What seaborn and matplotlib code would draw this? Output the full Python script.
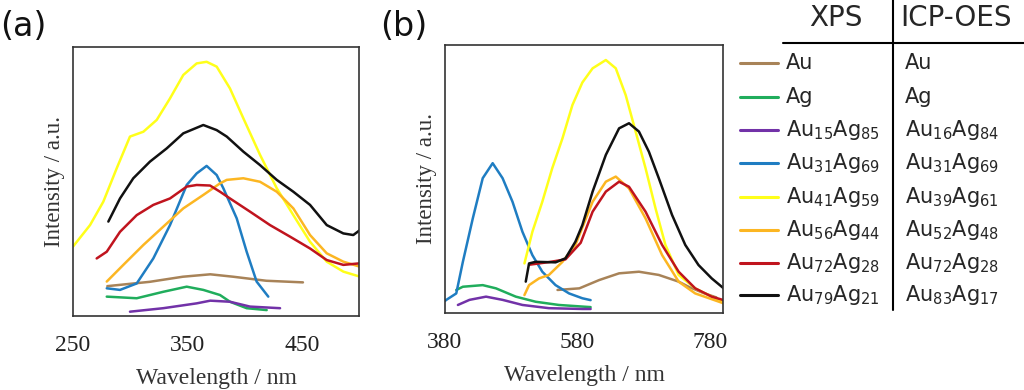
import matplotlib
matplotlib.use("Agg")
import matplotlib.pyplot as plt
from matplotlib.lines import Line2D
import seaborn as sns
import pandas as pd

sns.set_style("white")
plt.rcParams['font.family'] = ['DejaVu Sans']
plt.rcParams['mathtext.fontset'] = 'dejavusans'
plt.rcParams['mathtext.default'] = 'regular'

# ---- legend names / colours ----
xps_names = ["Au", "Ag", r"Au$_{15}$Ag$_{85}$", r"Au$_{31}$Ag$_{69}$", r"Au$_{41}$Ag$_{59}$",
             r"Au$_{56}$Ag$_{44}$", r"Au$_{72}$Ag$_{28}$", r"Au$_{79}$Ag$_{21}$"]
icp_names = ["Au", "Ag", r"Au$_{16}$Ag$_{84}$", r"Au$_{31}$Ag$_{69}$", r"Au$_{39}$Ag$_{61}$",
             r"Au$_{52}$Ag$_{48}$", r"Au$_{72}$Ag$_{28}$", r"Au$_{83}$Ag$_{17}$"]
colors = ["#a88358", "#20ad5c", "#7232a8", "#1f7dc2", "#ffff1a", "#fcb622", "#c0141e", "#111111"]

# ---- panel (a): excitation spectra, wavelength (nm) vs intensity (a.u.) ----
a_au_x = [280, 317, 346, 370, 390, 419, 451]
a_au_y = [0.111, 0.127, 0.146, 0.155, 0.146, 0.131, 0.125]
a_ag_x = [279.5, 305.7, 328.9, 349.4, 363.9, 378.5, 387.2, 401.8, 419.3]
a_ag_y = [0.072, 0.066, 0.090, 0.109, 0.097, 0.078, 0.053, 0.029, 0.022]
a_15_x = [299.8, 328.9, 358.1, 370, 387.2, 404.7, 431]
a_15_y = [0.016, 0.029, 0.047, 0.057, 0.053, 0.035, 0.029]
a_31_x = [279.5, 291.1, 305.7, 320.2, 334.8, 349.4, 358.1, 366.8, 375.6, 381.4, 393.1, 401.8, 410.5, 420.7]
a_31_y = [0.103, 0.097, 0.121, 0.214, 0.338, 0.487, 0.530, 0.558, 0.524, 0.475, 0.363, 0.239, 0.128, 0.072]
a_41_x = [250, 264.9, 276.5, 288.2, 299.8, 311.5, 323.2, 334.8, 346.4, 358.1, 366.8, 375.6, 387.2,
          398.9, 413.5, 428.1, 442.6, 457.2, 471.8, 486.3, 501]
a_41_y = [0.258, 0.338, 0.425, 0.549, 0.667, 0.685, 0.729, 0.809, 0.896, 0.939, 0.945, 0.927, 0.846,
          0.735, 0.599, 0.475, 0.375, 0.276, 0.202, 0.165, 0.146]
a_56_x = [279.5, 294, 311.5, 328.9, 346.4, 363.9, 378.5, 384.4, 398.9, 413.5, 428.1, 442.6, 457.2,
          471.8, 486.3, 501]
a_56_y = [0.128, 0.190, 0.264, 0.332, 0.400, 0.450, 0.493, 0.506, 0.512, 0.499, 0.462, 0.400, 0.301,
          0.233, 0.202, 0.183]
a_72_x = [270.7, 279.5, 291.1, 305.7, 320.2, 334.8, 349.4, 358.1, 369.8, 378.5, 387.2, 404.7, 422.2,
          439.7, 457.2, 471.8, 486.3, 501]
a_72_y = [0.214, 0.239, 0.313, 0.375, 0.413, 0.437, 0.481, 0.487, 0.485, 0.462, 0.437, 0.388, 0.338,
          0.295, 0.251, 0.208, 0.190, 0.196]
a_79_x = [280.9, 291.1, 302.7, 317.3, 331.9, 346.4, 363.9, 375.6, 384.4, 398.9, 413.5, 428.1, 442.6,
          457.2, 471.8, 486.3, 495, 501]
a_79_y = [0.351, 0.437, 0.512, 0.574, 0.623, 0.679, 0.710, 0.691, 0.667, 0.611, 0.561, 0.506, 0.462,
          0.413, 0.338, 0.307, 0.301, 0.320]

# ---- panel (b): emission spectra ----
b_au_x = [550, 583, 613, 643, 673, 703, 733, 748, 770, 790]
b_au_y = [0.086, 0.092, 0.123, 0.148, 0.154, 0.142, 0.117, 0.098, 0.075, 0.058]
b_ag_x = [397, 407, 437, 457, 487, 517, 552, 587.5, 600]
b_ag_y = [0.086, 0.098, 0.104, 0.092, 0.061, 0.042, 0.030, 0.024, 0.022]
b_15_x = [399.5, 417, 442, 467, 497, 537, 587.5, 600]
b_15_y = [0.030, 0.049, 0.061, 0.049, 0.030, 0.018, 0.015, 0.015]
b_31_x = [380, 382, 397, 407, 422, 437, 452, 467, 482, 497, 512, 527, 547, 567.5, 587.5, 600]
b_31_y = [0.045, 0.049, 0.073, 0.191, 0.353, 0.503, 0.559, 0.503, 0.415, 0.303, 0.216, 0.154, 0.104,
          0.073, 0.055, 0.048]
b_41_x = [500, 512, 527, 542, 557.5, 572.5, 587.5, 603, 623, 638, 653, 668, 683, 698, 713, 733, 758, 783, 801]
b_41_y = [0.185, 0.303, 0.415, 0.540, 0.652, 0.776, 0.860, 0.913, 0.944, 0.913, 0.813, 0.677, 0.540,
          0.391, 0.254, 0.142, 0.092, 0.061, 0.042]
b_56_x = [500, 507, 522, 537, 557.5, 577, 583, 603, 623, 638, 658, 683, 708, 733, 758, 801]
b_56_y = [0.067, 0.104, 0.129, 0.142, 0.191, 0.254, 0.291, 0.415, 0.490, 0.509, 0.465, 0.353, 0.216,
          0.117, 0.073, 0.036]
b_72_x = [507, 537, 562, 585, 603, 623, 643, 658, 683, 708, 733, 758, 783, 801]
b_72_y = [0.180, 0.190, 0.200, 0.262, 0.378, 0.453, 0.490, 0.471, 0.378, 0.254, 0.154, 0.092, 0.061, 0.048]
b_79_x = [502, 507, 517, 547, 562, 577, 587.5, 603, 623, 643, 658, 673, 688, 703, 723, 743, 763, 783, 801]
b_79_y = [0.117, 0.185, 0.191, 0.189, 0.204, 0.266, 0.328, 0.453, 0.590, 0.689, 0.708, 0.677, 0.602,
          0.503, 0.366, 0.254, 0.179, 0.129, 0.092]

panel_a = [(a_au_x, a_au_y), (a_ag_x, a_ag_y), (a_15_x, a_15_y), (a_31_x, a_31_y),
           (a_41_x, a_41_y), (a_56_x, a_56_y), (a_72_x, a_72_y), (a_79_x, a_79_y)]
panel_b = [(b_au_x, b_au_y), (b_ag_x, b_ag_y), (b_15_x, b_15_y), (b_31_x, b_31_y),
           (b_41_x, b_41_y), (b_56_x, b_56_y), (b_72_x, b_72_y), (b_79_x, b_79_y)]

fig = plt.figure(figsize=(10.24, 3.9), dpi=100)
ax_a = fig.add_axes([73 / 1024, 74 / 390, 286 / 1024, 269 / 390])
ax_b = fig.add_axes([445 / 1024, 77 / 390, 278 / 1024, 268 / 390])

serif = ['Liberation Serif', 'DejaVu Serif']


def draw_panel(ax, series, xlim, xticks):
    for (xs, ys), c in zip(series, colors):
        df = pd.DataFrame({"x": xs, "y": ys})
        sns.lineplot(data=df, x="x", y="y", color=c, lw=1.8, ax=ax, sort=False)
    ax.set_xlim(*xlim)
    ax.set_ylim(0, 1)
    ax.set_xticks(xticks)
    ax.set_xticklabels([str(t) for t in xticks], family=serif, fontsize=17, color="#222222")
    ax.set_yticks([])
    ax.tick_params(axis="x", direction="in", length=4, pad=14, color="#333333")
    ax.set_xlabel("Wavelength / nm", family=serif, fontsize=17, color="#333333", labelpad=8)
    ax.set_ylabel("Intensity / a.u.", family=serif, fontsize=16.5, color="#333333", labelpad=6)
    for s in ax.spines.values():
        s.set_color("#333333")
        s.set_linewidth(1.2)


draw_panel(ax_a, panel_a, (250, 500), [250, 350, 450])
draw_panel(ax_b, panel_b, (380, 800), [380, 580, 780])

fig.text(0.0, 1 - 27 / 390, "(a)", fontsize=24, color="#111111", va="center")
fig.text(380 / 1024, 1 - 27 / 390, "(b)", fontsize=24, color="#111111", va="center")

# ---- table-like legend ----
fig.text(836 / 1024, 1 - 18 / 390, "XPS", fontsize=20, ha="center", va="center")
fig.text(900 / 1024, 1 - 18 / 390, "ICP-OES", fontsize=20, ha="left", va="center")
fig.add_artist(Line2D([783 / 1024, 1.0], [1 - 43 / 390] * 2, color="black", lw=1.5))
fig.add_artist(Line2D([893 / 1024] * 2, [1.0, 1 - 310 / 390], color="black", lw=1.5))
row_y = [63, 97, 130, 163, 197, 230, 263, 295]
for yy, c, n1, n2 in zip(row_y, colors, xps_names, icp_names):
    yf = 1 - yy / 390
    fig.add_artist(Line2D([740 / 1024, 778 / 1024], [yf, yf], color=c, lw=2.2))
    fig.text(786 / 1024, yf, n1, fontsize=15, va="center", ha="left")
    fig.text(905 / 1024, yf, n2, fontsize=15, va="center", ha="left")

fig.savefig("out.png", dpi=100)
